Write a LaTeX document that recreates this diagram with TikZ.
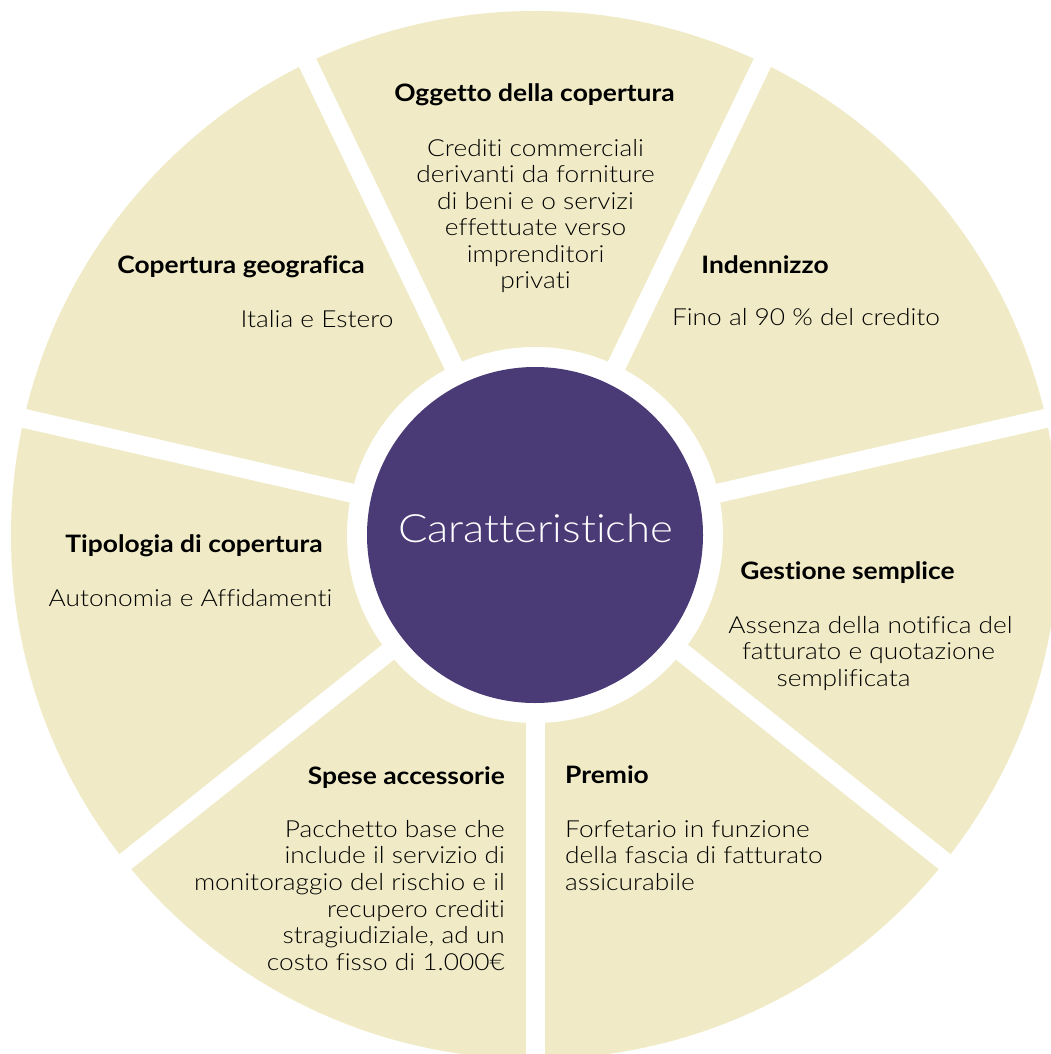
\documentclass[tikz,border=0pt]{standalone}
\usepackage{fontspec}
\setmainfont{Lato}[FakeStretch=1.10, Ligatures=NoCommon]
\IfFontExistsTF{Lato Light}
  {\newfontfamily\lightf{Lato Light}[FakeStretch=1.12, Ligatures=NoCommon]}
  {\newfontfamily\lightf{Lato}[FakeStretch=1.12, Ligatures=NoCommon]}
\definecolor{cream}{HTML}{F0EBC6}
\definecolor{deeppurple}{HTML}{4A3A76}
\begin{document}
\begin{tikzpicture}[x=1pt,y=1pt,
  head/.style={font=\fontsize{24}{27}\selectfont\bfseries, inner sep=0pt, text=black},
  body/.style={font=\lightf\fontsize{23.5}{27}\selectfont, inner sep=0pt, text=black},
  gap/.style={white, line width=19pt}]
\useasboundingbox (0,0) rectangle (1051,-1054);
\fill[white] (0,0) rectangle (1051,-1054);
\coordinate (c) at (535,-535);
\begin{scope}
\clip (0,0) rectangle (1051,-1054);
\fill[cream] (c) circle[radius=524pt];
\foreach \a in {12.857,64.286,115.714,167.143,218.571,270,321.429}
  \draw[gap] (c) -- ++(\a:600pt);
\end{scope}
\fill[white] (c) circle[radius=188pt];
\node[circle, fill=deeppurple, minimum size=336pt, inner sep=0pt] (hub) at (c) {};
\node[font=\lightf\fontsize{39}{40}\selectfont, text=white, anchor=base, inner sep=0pt] (title) at (535.5,-542) {Caratteristiche};
% Oggetto della copertura
\node[head, anchor=base] (h1) at (534.5,-102) {Oggetto della copertura};
\node[body, anchor=base] (b1a) at (535.5,-156) {Crediti commerciali};
\node[body, anchor=base] (b1b) at (535.5,-182.5) {derivanti da forniture};
\node[body, anchor=base] (b1c) at (535.5,-209) {di beni e o servizi};
\node[body, anchor=base] (b1d) at (535.5,-235.5) {effettuate verso};
\node[body, anchor=base] (b1e) at (535.5,-262) {imprenditori};
\node[body, anchor=base] (b1f) at (535.5,-288.5) {privati};
% Indennizzo
\node[head, anchor=base] (h2) at (765,-273) {Indennizzo};
\node[body, anchor=base] (b2) at (806,-325) {Fino al 90 \% del credito};
% Copertura geografica
\node[head, anchor=base] (h3) at (241,-273) {Copertura geografica};
\node[body, anchor=base] (b3) at (317,-327) {Italia e Estero};
% Tipologia di copertura
\node[head, anchor=base] (h4) at (194,-552) {Tipologia di copertura};
\node[body, anchor=base] (b4) at (190.5,-606) {Autonomia e Affidamenti};
% Gestione semplice
\node[head, anchor=base] (h5) at (847.5,-579) {Gestione semplice};
\node[body, anchor=base] (b5a) at (870.5,-633) {Assenza della notifica del};
\node[body, anchor=base] (b5b) at (868.5,-659.5) {fatturato e quotazione};
\node[body, anchor=base] (b5c) at (843.5,-686) {semplificata};
% Spese accessorie
\node[head, anchor=base east] (h6) at (505,-784) {Spese accessorie};
\node[body, anchor=base east] (b6a) at (505,-837) {Pacchetto base che};
\node[body, anchor=base east] (b6b) at (505,-863.5) {include il servizio di};
\node[body, anchor=base east] (b6c) at (505,-890) {monitoraggio del rischio e il};
\node[body, anchor=base east] (b6d) at (505,-917) {recupero crediti};
\node[body, anchor=base east] (b6e) at (505,-943) {stragiudiziale, ad un};
\node[body, anchor=base east] (b6f) at (505,-970) {costo fisso di 1.000€};
% Premio
\node[head, anchor=base west] (h7) at (565,-783) {Premio};
\node[body, anchor=base west] (b7a) at (565,-837) {Forfetario in funzione};
\node[body, anchor=base west] (b7b) at (565,-863.5) {della fascia di fatturato};
\node[body, anchor=base west] (b7c) at (565,-890) {assicurabile};
\end{tikzpicture}
\end{document}
